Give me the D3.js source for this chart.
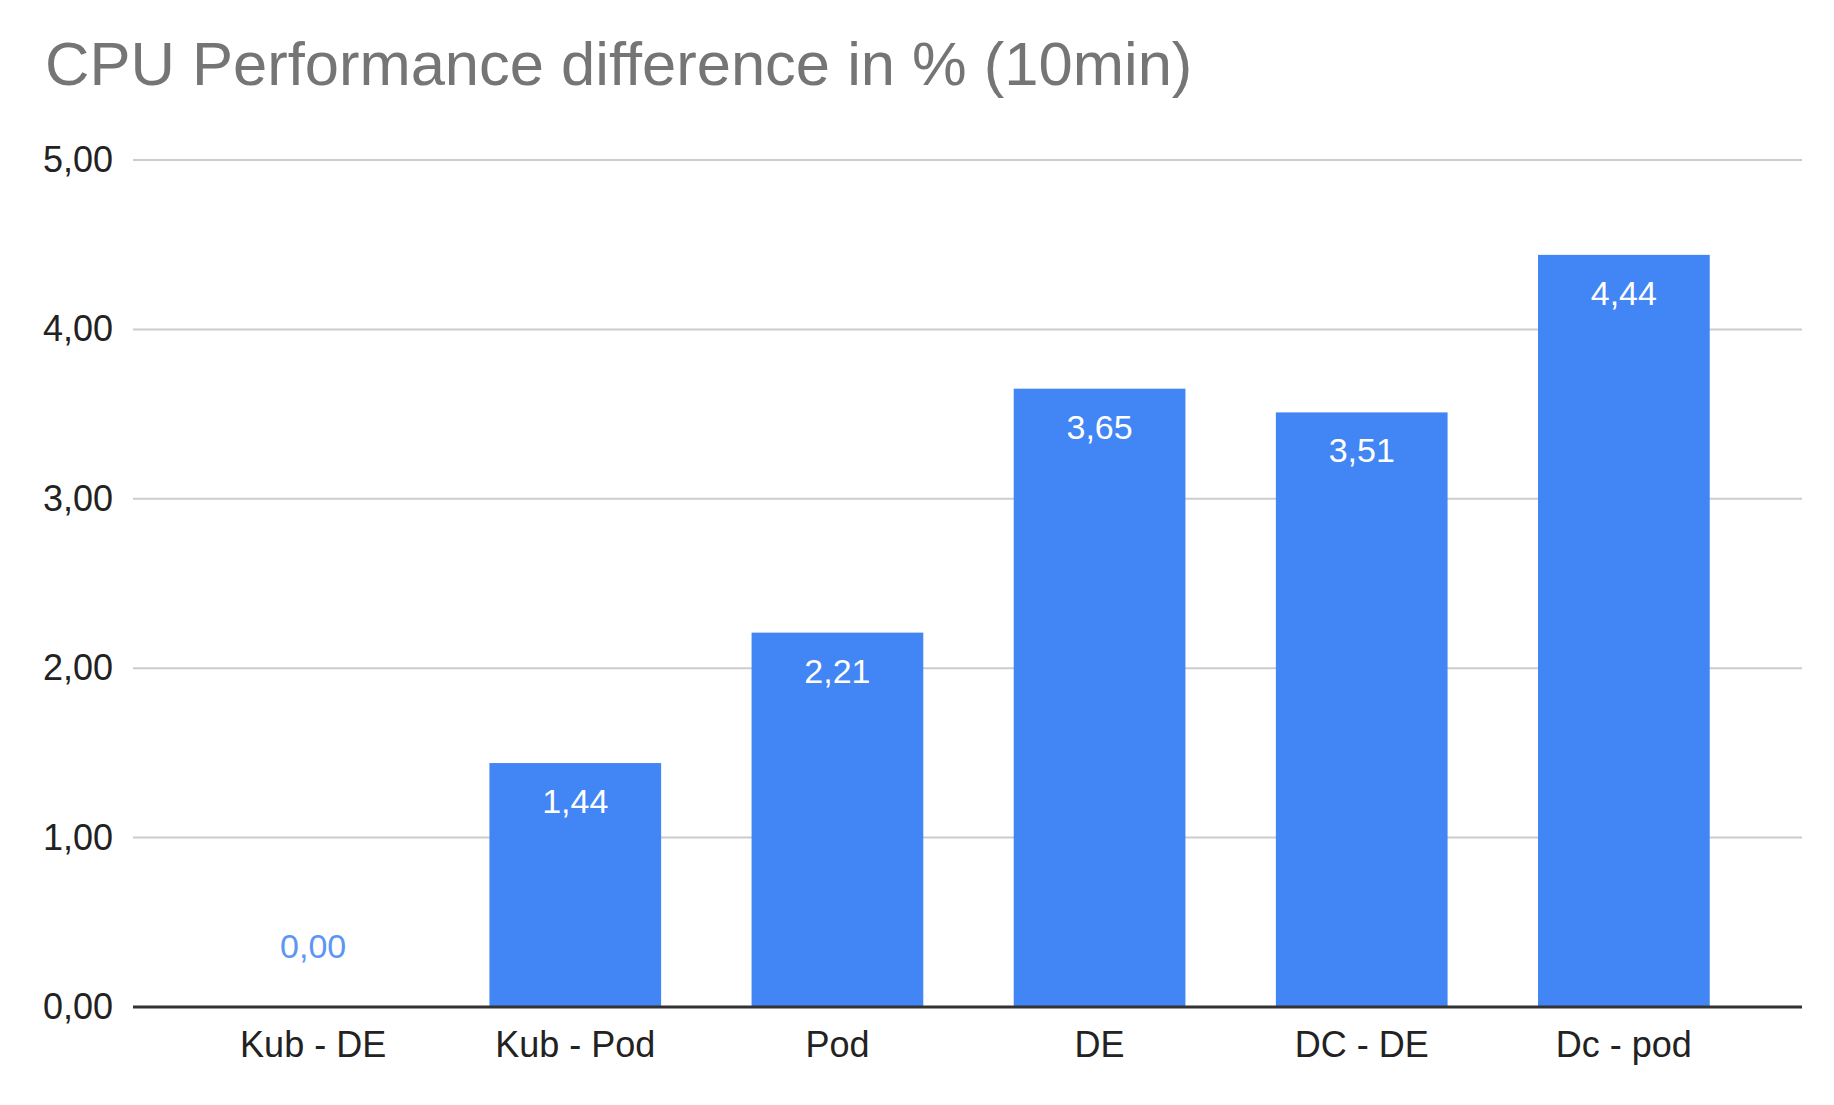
<!DOCTYPE html>
<html>
<head>
<meta charset="utf-8">
<script src="https://cdn.jsdelivr.net/npm/d3@7"></script>
<style>
  body { margin: 0; background: #fff; }
  text { font-family: "Liberation Sans", Arial, sans-serif; }
</style>
</head>
<body>
<div id="chart"></div>
<script>
//////////////////////////////////////////////////////////////
////////////////////// Chart data ////////////////////////////
//////////////////////////////////////////////////////////////

var categories = ["Kub - DE", "Kub - Pod", "Pod", "DE", "DC - DE", "Dc - pod"];
var values = [0.00, 1.44, 2.21, 3.65, 3.51, 4.44];
var yTicks = [0, 1, 2, 3, 4, 5];
var chartTitle = "CPU Performance difference in % (10min)";

//////////////////////////////////////////////////////////////
////////////////////// Set up svg ////////////////////////////
//////////////////////////////////////////////////////////////

var width = 1834,
    height = 1105,
    margin = {left: 133, top: 160, right: 32, bottom: 98};

var barColor = "#4285F4";

//comma as decimal separator
var fmt = function(d) { return d3.format(".2f")(d).replace(".", ","); };

var svg = d3.select("#chart").append("svg")
    .attr("width", width)
    .attr("height", height);

var g = svg.append("g")
    .attr("transform", "translate(" + margin.left + "," + margin.top + ")");

var innerW = width - margin.left - margin.right,
    innerH = height - margin.top - margin.bottom;

var x = d3.scaleBand()
    .domain(categories)
    .range([2, innerW])
    .paddingInner(0.345)
    .paddingOuter(0.352);

var y = d3.scaleLinear()
    .domain([0, 5])
    .range([innerH, 0]);

//Title
svg.append("text")
    .attr("x", 45)
    .attr("y", 85)
    .attr("fill", "#757575")
    .style("font-size", "61.5px")
    .text(chartTitle);

//Gridlines
g.selectAll(".grid")
    .data(yTicks.filter(function(d) { return d > 0; }))
    .enter().append("line")
    .attr("class", "grid")
    .attr("x1", 0)
    .attr("x2", innerW)
    .attr("y1", function(d) { return y(d); })
    .attr("y2", function(d) { return y(d); })
    .attr("stroke", "#cccccc")
    .attr("stroke-width", 2);

//Y axis labels
var yAxis = d3.axisLeft(y).tickValues(yTicks).tickFormat(fmt).tickSize(0).tickPadding(20);
g.append("g")
    .call(yAxis)
    .call(function(s) {
        s.select(".domain").remove();
        s.selectAll("text")
            .attr("fill", "#222")
            .style("font-size", "36px")
            .style("font-family", "'Liberation Sans', Arial, sans-serif");
    });

//Bars
g.selectAll(".bar")
    .data(values)
    .enter().append("rect")
    .attr("class", "bar")
    .attr("x", function(d, i) { return x(categories[i]); })
    .attr("width", x.bandwidth())
    .attr("y", function(d) { return y(d); })
    .attr("height", function(d) { return innerH - y(d); })
    .attr("fill", barColor);

//Value labels - inside the bar when there is room, above it otherwise
g.selectAll(".valueLabel")
    .data(values)
    .enter().append("text")
    .attr("class", "valueLabel")
    .attr("x", function(d, i) { return x(categories[i]) + x.bandwidth() / 2; })
    .attr("y", function(d) { return d > 0.5 ? y(d) + 50 : y(d) - 49; })
    .attr("text-anchor", "middle")
    .attr("fill", function(d) { return d > 0.5 ? "#ffffff" : "#5b95f5"; })
    .style("font-size", "34px")
    .text(fmt);

//Baseline
g.append("line")
    .attr("x1", 0)
    .attr("x2", innerW)
    .attr("y1", y(0))
    .attr("y2", y(0))
    .attr("stroke", "#333")
    .attr("stroke-width", 3);

//X axis labels
var xAxis = d3.axisBottom(x).tickSize(0).tickPadding(24);
g.append("g")
    .attr("transform", "translate(0," + innerH + ")")
    .call(xAxis)
    .call(function(s) {
        s.select(".domain").remove();
        s.selectAll("text")
            .attr("fill", "#222")
            .style("font-size", "36px")
            .style("font-family", "'Liberation Sans', Arial, sans-serif");
    });
</script>
</body>
</html>
